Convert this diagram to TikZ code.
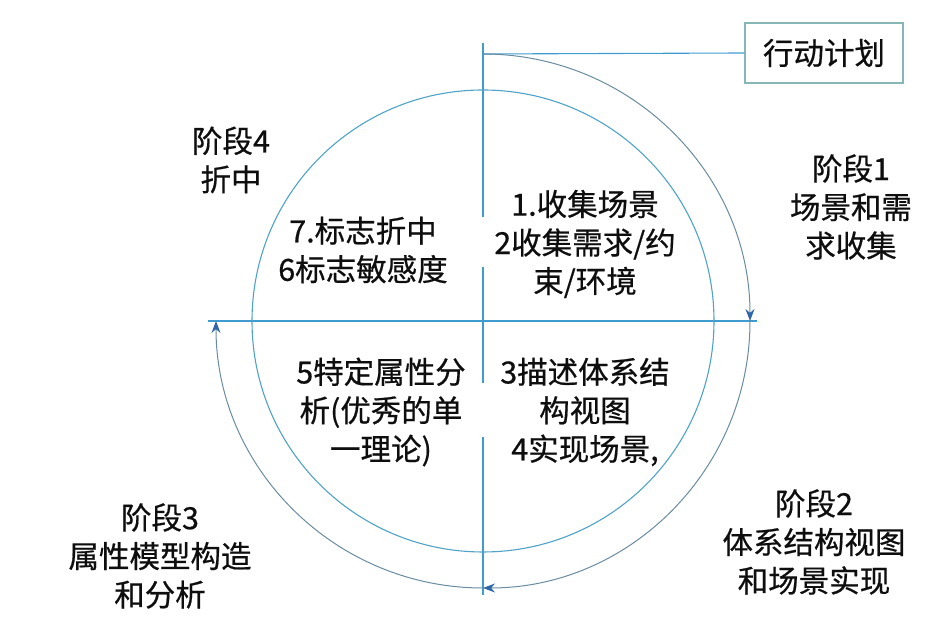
\documentclass[tikz,border=0pt]{standalone}
\usepackage{fontspec}
\setmainfont{Noto Sans CJK SC}[FakeBold=0.6]
\usetikzlibrary{positioning,arrows.meta,calc}
\definecolor{axis}{HTML}{3F9BD0}
\definecolor{ring}{HTML}{4FA3C8}
\definecolor{orbit}{HTML}{6A8CA0}
\definecolor{tip}{HTML}{2F66A8}
\definecolor{frame}{HTML}{86B6B6}
\definecolor{ink}{HTML}{0E0E0E}
\begin{document}
\begin{tikzpicture}[x=1pt,y=1pt,font=\fontsize{30.5}{38.5}\selectfont,
  phase/.style={text=ink,align=center,inner sep=0pt},
  task/.style={text=ink,align=center,inner sep=0pt},
  orbitarc/.style={orbit,line width=1pt,-{Stealth[length=12pt,width=9pt,color=tip]}}]
  \useasboundingbox (0,0) rectangle (938,620);
  \coordinate (o) at (483,299);
  % axes
  \draw[axis,line width=1.1pt] (208,299) -- (757,299);
  \draw[axis,line width=1.1pt] (483,577) -- (483,403);
  \draw[axis,line width=1.1pt] (483,353) -- (483,237);
  \draw[axis,line width=1.1pt] (483,183) -- (483,25);
  % inner ring
  \draw[ring,line width=1.1pt] (o) circle[radius=231];
  % plan box and outer path
  \node[draw=frame,line width=1.1pt,minimum width=158,minimum height=60,text=ink,inner sep=0pt] (plan) at (824,567) {行动计划};
  \coordinate (top) at ($(o)+(0,267)$);
  \coordinate (east) at ($(o)+(267,0)$);
  \coordinate (south) at ($(o)+(0,-267)$);
  \draw[axis,line width=1.1pt] (top) -- (plan.west);
  \draw[orbitarc] (top) arc[start angle=90,end angle=0,radius=267];
  \draw[orbitarc] (east) arc[start angle=0,end angle=-90,radius=267];
  \draw[orbitarc] (south) arc[start angle=-90,end angle=-180,radius=267];
  % quadrant tasks
  \node[task] (t12) at (585,376) {1.收集场景\\2收集需求/约\\束/环境};
  \node[task] (t76) at (363,370) {7.标志折中\\6标志敏感度};
  \node[task] (t5) at (381,208) {5特定属性分\\析(优秀的单\\一理论)};
  \node[task] (t34) at (585,208) {3描述体系结\\构视图\\4实现场景,};
  % phases
  \node[phase] (p1) at (851,413) {阶段1\\场景和需\\求收集};
  \node[phase] (p2) at (814,78) {阶段2\\体系结构视图\\和场景实现};
  \node[phase] (p3) at (160,64) {阶段3\\属性模型构造\\和分析};
  \node[phase] (p4) at (231,460) {阶段4\\折中};
\end{tikzpicture}
\end{document}
